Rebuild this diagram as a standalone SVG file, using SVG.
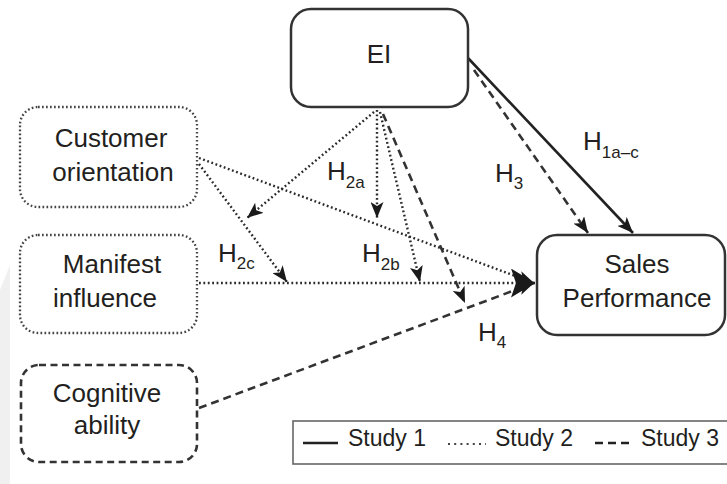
<svg xmlns="http://www.w3.org/2000/svg" width="727" height="484" viewBox="0 0 727 484">
<defs>
<style>
.box{fill:#fff;stroke:#333;stroke-width:2.5}
.dotbox{fill:#fff;stroke:#444;stroke-width:2.3;stroke-dasharray:1.7 2.3}
.dashbox{fill:#fff;stroke:#333;stroke-width:2.6;stroke-dasharray:7 4.5}
.t{font-family:"Liberation Sans",Arial,sans-serif;font-size:26px;fill:#231f20;text-anchor:middle}
.h{font-family:"Liberation Sans",Arial,sans-serif;font-size:26px;fill:#231f20}
.s{font-size:17px}
.lg{font-family:"Liberation Sans",Arial,sans-serif;font-size:23px;fill:#231f20}
.solid{fill:none;stroke:#222;stroke-width:2.6}
.dot{fill:none;stroke:#2a2a2a;stroke-width:2.4;stroke-dasharray:1.8 2.6}
.dash{fill:none;stroke:#333;stroke-width:2.6;stroke-dasharray:8 5}
</style>
<marker id="ah" markerUnits="userSpaceOnUse" markerWidth="17" markerHeight="13" refX="16" refY="6.5" orient="auto">
<path d="M0,0 L16,6.5 L0,13 L4,6.5 z" fill="#1a1a1a"/>
</marker>
<marker id="big" markerUnits="userSpaceOnUse" markerWidth="25" markerHeight="30" refX="24" refY="14.5" orient="auto">
<path d="M0,0 L24,14.5 L0,29 L5,14.5 z" fill="#1a1a1a"/>
</marker>
</defs>
<rect width="727" height="484" fill="#fff"/>
<polygon points="0,290 10,265 10,484 0,484" fill="#f0f0f0"/>

<g id="connectors">
<line class="solid" x1="468" y1="58" x2="633" y2="233" marker-end="url(#ah)"/>
<line class="dash" x1="474" y1="70" x2="588" y2="233" marker-end="url(#ah)"/>
<line class="dot" x1="377" y1="110" x2="377" y2="218" marker-end="url(#ah)"/>
<line class="dot" x1="380" y1="112" x2="420" y2="282" marker-end="url(#ah)"/>
<line class="dash" x1="383" y1="114" x2="465" y2="303" marker-end="url(#ah)"/>
<line class="dot" x1="374" y1="112" x2="247" y2="218" marker-end="url(#ah)"/>
<line class="dot" x1="199" y1="164" x2="287" y2="282" marker-end="url(#ah)"/>
<line class="dot" x1="199" y1="158" x2="534" y2="283" marker-end="url(#ah)"/>
<line class="dash" x1="199" y1="408" x2="534" y2="283" marker-end="url(#ah)"/>
<line class="dot" x1="199" y1="283" x2="535" y2="283" marker-end="url(#big)"/>
</g>

<g id="labels">
<text class="h" x="583" y="150">H<tspan class="s" dy="8">1a–c</tspan></text>
<text class="h" x="495" y="182">H<tspan class="s" dy="7">3</tspan></text>
<text class="h" x="327" y="180">H<tspan class="s" dy="8">2a</tspan></text>
<text class="h" x="362" y="262">H<tspan class="s" dy="8">2b</tspan></text>
<text class="h" x="218" y="262">H<tspan class="s" dy="7">2c</tspan></text>
<text class="h" x="478" y="341">H<tspan class="s" dy="7">4</tspan></text>
</g>

<g id="ei">
<rect class="box" x="291" y="9" width="177" height="98" rx="20"/>
<text class="t" x="379" y="63">EI</text>
</g>

<g id="customer">
<rect class="dotbox" x="20" y="107" width="177" height="100" rx="18"/>
<text class="t" x="111" y="147">Customer</text>
<text class="t" x="113" y="181">orientation</text>
</g>

<g id="manifest">
<rect class="dotbox" x="20" y="235" width="177" height="98" rx="18"/>
<text class="t" x="112" y="273">Manifest</text>
<text class="t" x="105" y="307">influence</text>
</g>

<g id="cognitive">
<rect class="dashbox" x="21" y="365" width="176" height="97" rx="18"/>
<text class="t" x="107" y="402">Cognitive</text>
<text class="t" x="107" y="434">ability</text>
</g>

<g id="sales">
<rect class="box" x="537" y="235" width="188" height="100" rx="20"/>
<text class="t" x="637" y="273">Sales</text>
<text class="t" x="637" y="307">Performance</text>
</g>

<g id="legend">
<rect x="293" y="421" width="440" height="43" fill="#fff" stroke="#666" stroke-width="1.6"/>
<line x1="303" y1="443" x2="338" y2="443" stroke="#222" stroke-width="2.6"/>
<text class="lg" x="348" y="446">Study 1</text>
<line x1="448" y1="444" x2="486" y2="444" stroke="#444" stroke-width="2.2" stroke-dasharray="2 4.2"/>
<text class="lg" x="495" y="446">Study 2</text>
<line x1="595" y1="443" x2="631" y2="443" stroke="#222" stroke-width="2.6" stroke-dasharray="8 5"/>
<text class="lg" x="641" y="446">Study 3</text>
</g>
</svg>
